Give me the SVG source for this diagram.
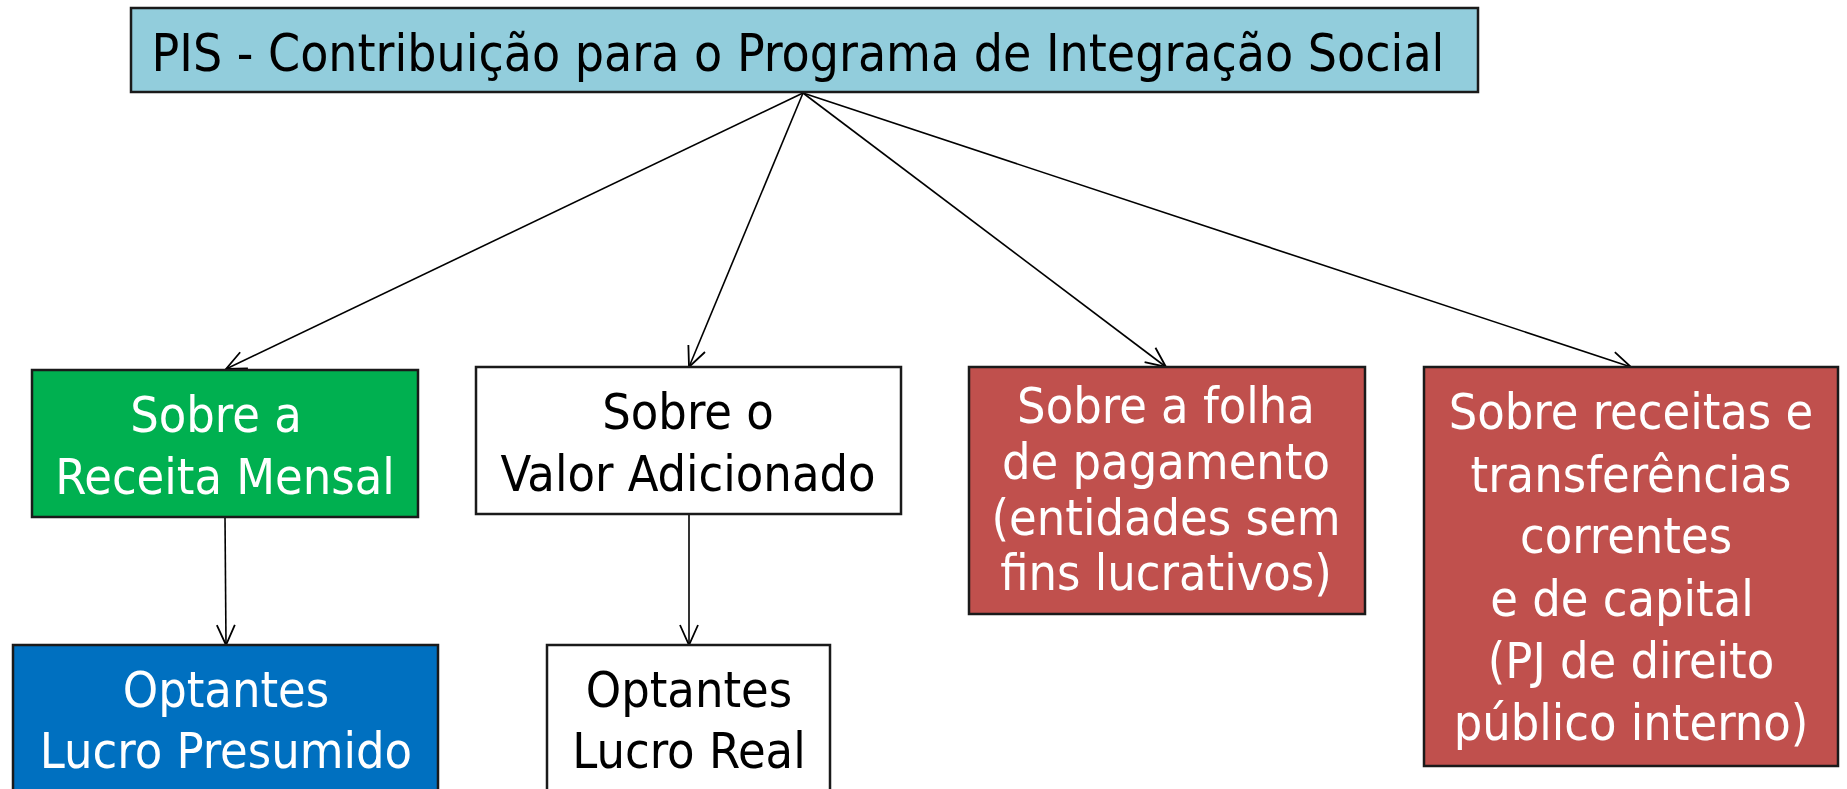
<svg xmlns="http://www.w3.org/2000/svg" width="1847" height="789" viewBox="0 0 1847 789">
<defs>
<style>
.box{stroke:#1a1a1a;stroke-width:2.5}
.t{font-family:"DejaVu Sans Condensed","DejaVu Sans",sans-serif;font-stretch:condensed;font-size:50px;text-anchor:middle}
.tt{font-size:51.2px}
.w{fill:#ffffff}
.k{fill:#000000}
.c{fill:none;stroke:#000;stroke-width:1.6}
</style>
<marker id="ah" markerUnits="userSpaceOnUse" markerWidth="30" markerHeight="30" viewBox="-25 -15 30 30" refX="0" refY="0" orient="auto">
<path d="M-20,-9 L0,0 L-20,9" fill="none" stroke="#000" stroke-width="1.8"/>
</marker>
</defs>
<rect width="1847" height="789" fill="#ffffff"/>
<g id="connectors">
<path class="c" d="M803,93 L226,369" marker-end="url(#ah)"/>
<path class="c" d="M803,93 L689,367" marker-end="url(#ah)"/>
<path class="c" d="M803,93 L1166,367" marker-end="url(#ah)"/>
<path class="c" d="M803,93 L1631,367" marker-end="url(#ah)"/>
<path class="c" d="M225,517 L226,645" marker-end="url(#ah)"/>
<path class="c" d="M689,514 L689,645" marker-end="url(#ah)"/>
</g>
<g id="title">
<rect class="box" x="131" y="8" width="1347" height="84" fill="#92CDDC"/>
<text class="t tt k" x="798" y="71">PIS - Contribuição para o Programa de Integração Social</text>
</g>
<g id="receita">
<rect class="box" x="32" y="370" width="386" height="147" fill="#00B050"/>
<text class="t w" x="216" y="432">Sobre a</text>
<text class="t w" x="225" y="494">Receita Mensal</text>
</g>
<g id="valor">
<rect class="box" x="476" y="367" width="425" height="147" fill="#ffffff"/>
<text class="t k" x="688" y="429">Sobre o</text>
<text class="t k" x="688" y="491">Valor Adicionado</text>
</g>
<g id="folha">
<rect class="box" x="969" y="367" width="396" height="247" fill="#C0504D"/>
<text class="t w" x="1166" y="423">Sobre a folha</text>
<text class="t w" x="1166" y="479">de pagamento</text>
<text class="t w" x="1166" y="535">(entidades sem</text>
<text class="t w" x="1166" y="590">fins lucrativos)</text>
</g>
<g id="transferencias">
<rect class="box" x="1424" y="367" width="414" height="399" fill="#C0504D"/>
<text class="t w" x="1631" y="429">Sobre receitas e</text>
<text class="t w" x="1631" y="492">transferências</text>
<text class="t w" x="1626" y="553">correntes</text>
<text class="t w" x="1622" y="616">e de capital</text>
<text class="t w" x="1631" y="678">(PJ de direito</text>
<text class="t w" x="1631" y="740">público interno)</text>
</g>
<g id="presumido">
<rect class="box" x="13" y="645" width="425" height="160" fill="#0070C0"/>
<text class="t w" x="226" y="707">Optantes</text>
<text class="t w" x="226" y="768">Lucro Presumido</text>
</g>
<g id="real">
<rect class="box" x="547" y="645" width="283" height="160" fill="#ffffff"/>
<text class="t k" x="689" y="707">Optantes</text>
<text class="t k" x="689" y="768">Lucro Real</text>
</g>
</svg>
